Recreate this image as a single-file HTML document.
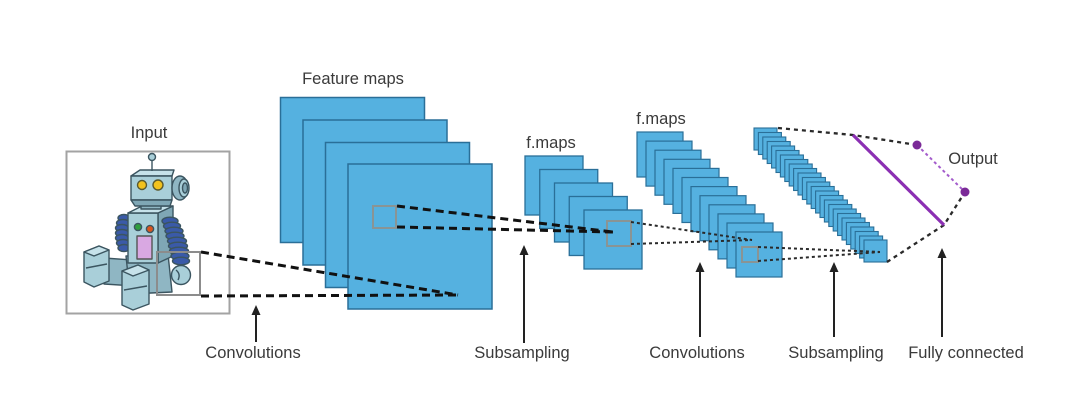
<!DOCTYPE html>
<html>
<head>
<meta charset="utf-8">
<style>
  html, body { margin:0; padding:0; background:#ffffff; }
  body { width:1080px; height:406px; overflow:hidden; }
  svg { display:block; }
  text { font-family: "Liberation Sans", Arial, sans-serif; fill:#3a3a3a; }
</style>
</head>
<body>
<svg width="1080" height="406" viewBox="0 0 1080 406" xmlns="http://www.w3.org/2000/svg">
  <rect x="0" y="0" width="1080" height="406" fill="#ffffff"/>

  <!-- ===== Labels ===== -->
  <text x="149" y="138" font-size="16.5" text-anchor="middle">Input</text>
  <text x="353" y="84" font-size="16.5" text-anchor="middle">Feature maps</text>
  <text x="551" y="148" font-size="16.5" text-anchor="middle">f.maps</text>
  <text x="661" y="124" font-size="16.5" text-anchor="middle">f.maps</text>
  <text x="973" y="164" font-size="16.5" text-anchor="middle">Output</text>

  <text x="253" y="358" font-size="16.5" text-anchor="middle">Convolutions</text>
  <text x="522" y="358" font-size="16.5" text-anchor="middle">Subsampling</text>
  <text x="697" y="358" font-size="16.5" text-anchor="middle">Convolutions</text>
  <text x="836" y="358" font-size="16.5" text-anchor="middle">Subsampling</text>
  <text x="966" y="358" font-size="16.5" text-anchor="middle">Fully connected</text>

  <!-- ===== Input box ===== -->
  <rect x="66.5" y="151.5" width="163" height="162" fill="#ffffff" stroke="#a3a3a3" stroke-width="2"/>

  <!-- Robot -->
  <g stroke="#3b5560" stroke-width="1.4" stroke-linejoin="round">
    <!-- left arm (behind) -->
    <g fill="#3a5aa8">
      <ellipse cx="124" cy="218" rx="6" ry="3.5"/>
      <ellipse cx="123" cy="223" rx="6.5" ry="3.5"/>
      <ellipse cx="122" cy="228" rx="6.5" ry="3.5"/>
      <ellipse cx="122" cy="233" rx="6.5" ry="3.5"/>
      <ellipse cx="122" cy="238" rx="6.5" ry="3.5"/>
      <ellipse cx="123" cy="243" rx="6.5" ry="3.5"/>
      <ellipse cx="124" cy="248" rx="6" ry="3.5"/>
    </g>
    <!-- left leg thigh -->
    <polygon points="104,258 132,260 134,286 104,284" fill="#8fb6c3"/>
    <!-- left foot block -->
    <polygon points="84,252 99,246 109,250 109,281 94,287 84,282" fill="#a9cfd9"/>
    <polygon points="84,252 99,246 109,250 94,256" fill="#c6e2ea"/>
    <line x1="86" y1="268" x2="107" y2="264" />
    <!-- hips -->
    <polygon points="126,256 168,254 172,292 130,294" fill="#8fb6c3"/>
    <!-- body side -->
    <polygon points="158,213 173,206 173,256 158,263" fill="#7fa7b5"/>
    <!-- body front -->
    <rect x="128" y="213" width="30" height="50" fill="#a9cfd9"/>
    <!-- body top -->
    <polygon points="128,213 142,206 173,206 158,213" fill="#c6e2ea"/>
    <!-- buttons -->
    <circle cx="138" cy="227" r="3.6" fill="#2e9e3e"/>
    <circle cx="150" cy="229" r="3.6" fill="#d9541e"/>
    <!-- pink panel -->
    <rect x="137" y="236" width="15" height="23" fill="#d9a8e2" stroke="#555"/>
    <!-- neck -->
    <rect x="141" y="201" width="20" height="8" fill="#8fb6c3"/>
    <!-- head -->
    <polygon points="131,176 140,170 174,170 172,176" fill="#c6e2ea"/>
    <rect x="131" y="176" width="41" height="24" fill="#a9cfd9"/>
    <polygon points="131,200 172,200 170,206 135,206" fill="#7fa7b5"/>
    <!-- ear cylinder -->
    <ellipse cx="180" cy="188" rx="8" ry="12" fill="#8fb6c3"/>
    <ellipse cx="184" cy="188" rx="5" ry="9" fill="#a9cfd9"/>
    <ellipse cx="185" cy="188" rx="2.5" ry="5" fill="#7fa7b5"/>
    <!-- eyes -->
    <circle cx="142" cy="185" r="4.5" fill="#f2c21e" stroke="#5b5a2e"/>
    <circle cx="158" cy="185" r="5" fill="#f2c21e" stroke="#5b5a2e"/>
    <!-- antenna -->
    <line x1="152" y1="160" x2="152" y2="171"/>
    <circle cx="152" cy="157" r="3.5" fill="#a9cfd9"/>
    <!-- right arm -->
    <g fill="#3a5aa8">
      <ellipse cx="170" cy="221" rx="8" ry="3.8"/>
      <ellipse cx="172" cy="226" rx="8.5" ry="3.8"/>
      <ellipse cx="174" cy="231" rx="9" ry="3.8"/>
      <ellipse cx="175" cy="236" rx="9" ry="3.8"/>
      <ellipse cx="177" cy="241" rx="9.5" ry="3.8"/>
      <ellipse cx="178" cy="246" rx="9.5" ry="3.8"/>
      <ellipse cx="179" cy="251" rx="9.5" ry="3.8"/>
      <ellipse cx="180" cy="256" rx="9" ry="3.8"/>
      <ellipse cx="181" cy="261" rx="8.5" ry="3.8"/>
    </g>
    <!-- right foot block -->
    <polygon points="122,271 138,265 149,270 149,304 133,310 122,305" fill="#a9cfd9"/>
    <polygon points="122,271 138,265 149,270 133,276" fill="#c6e2ea"/>
    <line x1="124" y1="290" x2="147" y2="286"/>
    <!-- hand -->
    <circle cx="181" cy="275" r="9.5" fill="#a9cfd9"/>
    <path d="M176,270 q5,4 2,10" fill="none"/>
  </g>
  <!-- input receptive field -->
  <rect x="157" y="252" width="43" height="43" fill="none" stroke="#8c8c8c" stroke-width="2"/>

  <!-- ===== Feature maps (4 large) ===== -->
  <g fill="#55b1e0" stroke="#2a6f98" stroke-width="1.5">
    <rect x="280.5" y="97.5" width="144" height="145"/>
    <rect x="303" y="120" width="144" height="145"/>
    <rect x="325.5" y="142.5" width="144" height="145"/>
    <rect x="348" y="164" width="144" height="145"/>
  </g>
  <rect x="373" y="206" width="23" height="22" fill="none" stroke="#8a9494" stroke-width="2"/>

  <!-- ===== f.maps 1 (5) ===== -->
  <g fill="#55b1e0" stroke="#2a6f98" stroke-width="1.3">
    <rect x="525" y="156" width="58" height="59"/>
    <rect x="539.75" y="169.5" width="58" height="59"/>
    <rect x="554.5" y="183" width="58" height="59"/>
    <rect x="569.25" y="196.5" width="58" height="59"/>
    <rect x="584" y="210" width="58" height="59"/>
  </g>
  <rect x="607" y="221" width="24" height="25" fill="none" stroke="#8a9494" stroke-width="2"/>

  <!-- ===== f.maps 2 (12) ===== -->
  <g fill="#55b1e0" stroke="#2a6f98" stroke-width="1.2">
    <rect x="637" y="132" width="46" height="45"/>
    <rect x="646" y="141.1" width="46" height="45"/>
    <rect x="655" y="150.2" width="46" height="45"/>
    <rect x="664" y="159.3" width="46" height="45"/>
    <rect x="673" y="168.4" width="46" height="45"/>
    <rect x="682" y="177.5" width="46" height="45"/>
    <rect x="691" y="186.6" width="46" height="45"/>
    <rect x="700" y="195.7" width="46" height="45"/>
    <rect x="709" y="204.8" width="46" height="45"/>
    <rect x="718" y="213.9" width="46" height="45"/>
    <rect x="727" y="223" width="46" height="45"/>
    <rect x="736" y="232" width="46" height="45"/>
  </g>
  <rect x="742" y="247" width="16" height="15" fill="none" stroke="#8a9494" stroke-width="2"/>

  <!-- ===== stack 3 (26 small) ===== -->
  <g fill="#55b1e0" stroke="#2a6f98" stroke-width="1.1">
    <rect x="754" y="128" width="23" height="22"/>
    <rect x="758.4" y="132.5" width="23" height="22"/>
    <rect x="762.8" y="137" width="23" height="22"/>
    <rect x="767.2" y="141.5" width="23" height="22"/>
    <rect x="771.6" y="146" width="23" height="22"/>
    <rect x="776" y="150.5" width="23" height="22"/>
    <rect x="780.4" y="155" width="23" height="22"/>
    <rect x="784.8" y="159.5" width="23" height="22"/>
    <rect x="789.2" y="164" width="23" height="22"/>
    <rect x="793.6" y="168.5" width="23" height="22"/>
    <rect x="798" y="173" width="23" height="22"/>
    <rect x="802.4" y="177.5" width="23" height="22"/>
    <rect x="806.8" y="182" width="23" height="22"/>
    <rect x="811.2" y="186.5" width="23" height="22"/>
    <rect x="815.6" y="191" width="23" height="22"/>
    <rect x="820" y="195.5" width="23" height="22"/>
    <rect x="824.4" y="200" width="23" height="22"/>
    <rect x="828.8" y="204.5" width="23" height="22"/>
    <rect x="833.2" y="209" width="23" height="22"/>
    <rect x="837.6" y="213.5" width="23" height="22"/>
    <rect x="842" y="218" width="23" height="22"/>
    <rect x="846.4" y="222.5" width="23" height="22"/>
    <rect x="850.8" y="227" width="23" height="22"/>
    <rect x="855.2" y="231.5" width="23" height="22"/>
    <rect x="859.6" y="236" width="23" height="22"/>
    <rect x="864" y="240" width="23" height="22"/>
  </g>

  <!-- ===== Connector lines ===== -->
  <!-- input -> feature maps (thick dashes) -->
  <g stroke="#111" stroke-width="3" stroke-dasharray="8 5" fill="none">
    <line x1="201" y1="252" x2="458" y2="295"/>
    <line x1="201" y1="296" x2="458" y2="295"/>
    <!-- feature map -> f.maps1 -->
    <line x1="397" y1="206" x2="613" y2="232"/>
    <line x1="397" y1="227" x2="613" y2="232"/>
  </g>
  <!-- f.maps1 -> f.maps2 (dotted) -->
  <g stroke="#2a2a2a" stroke-width="2" stroke-dasharray="3 3" fill="none">
    <line x1="631" y1="222" x2="752" y2="240"/>
    <line x1="631" y1="244" x2="752" y2="240"/>
    <!-- f.maps2 -> stack3 -->
    <line x1="758" y1="247" x2="880" y2="252"/>
    <line x1="758" y1="261" x2="880" y2="252"/>
  </g>
  <!-- stack3 -> output -->
  <g stroke="#2a2a2a" stroke-width="2.3" stroke-dasharray="4 4" fill="none">
    <polyline points="778,128 853,135 917,145"/>
    <polyline points="887,262 944,225 965,192"/>
  </g>
  <!-- purple fully connected -->
  <line x1="853" y1="135" x2="944" y2="225" stroke="#8b2fb3" stroke-width="3.2"/>
  <line x1="917" y1="145" x2="965" y2="192" stroke="#a45ccc" stroke-width="2" stroke-dasharray="3 3"/>
  <circle cx="917" cy="145" r="4.5" fill="#7b2a98"/>
  <circle cx="965" cy="192" r="4.5" fill="#7b2a98"/>

  <!-- ===== Arrows ===== -->
  <g stroke="#222" stroke-width="2" fill="#222">
    <line x1="256" y1="314" x2="256" y2="342"/>
    <polygon points="256,305 251.5,315 260.5,315" stroke="none"/>
    <line x1="524" y1="254" x2="524" y2="343"/>
    <polygon points="524,245 519.5,255 528.5,255" stroke="none"/>
    <line x1="700" y1="271" x2="700" y2="337"/>
    <polygon points="700,262 695.5,272 704.5,272" stroke="none"/>
    <line x1="834" y1="271" x2="834" y2="337"/>
    <polygon points="834,262 829.5,272 838.5,272" stroke="none"/>
    <line x1="942" y1="257" x2="942" y2="337"/>
    <polygon points="942,248 937.5,258 946.5,258" stroke="none"/>
  </g>
</svg>
</body>
</html>
